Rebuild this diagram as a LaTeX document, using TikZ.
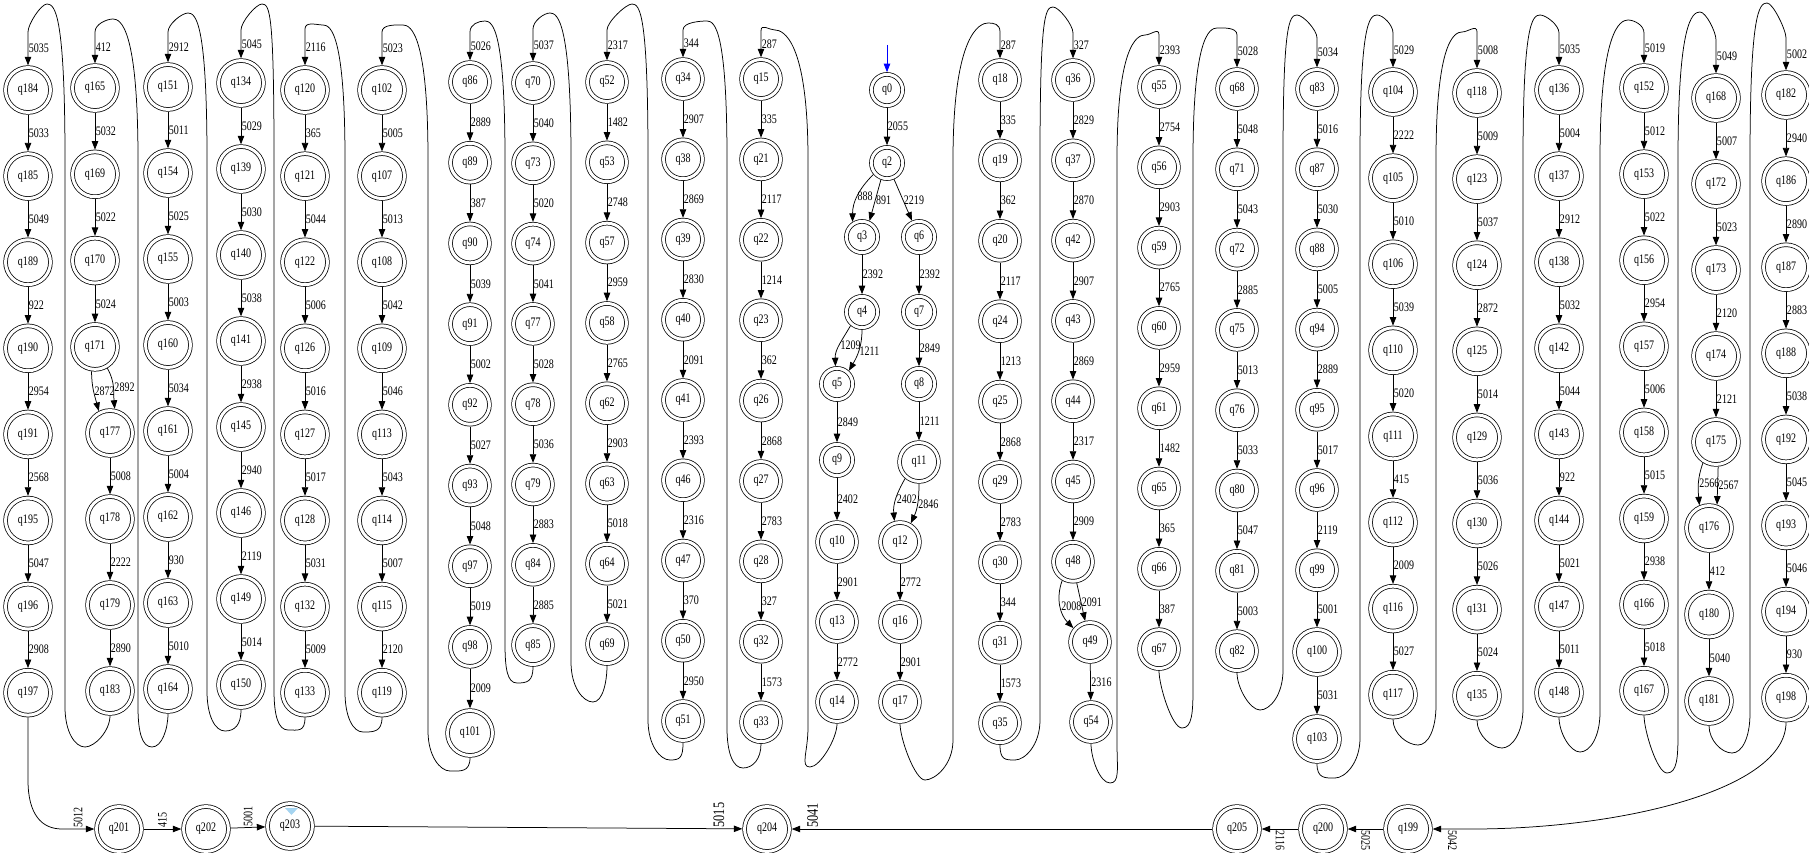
\documentclass[tikz,border=0pt]{standalone}
\usepackage{fontspec}
\setmainfont{Liberation Serif}[FakeStretch=0.77]
\usetikzlibrary{arrows.meta,calc}
\definecolor{pale}{RGB}{165,212,240}
\newcommand\gv{\fontsize{13}{15}\selectfont}
\newcommand\gvbig{\fontsize{16}{18}\selectfont}
\newcommand\stcol[5]{%
  \foreach \n [count=\i from 0] in {#5}
    \node[st,#4] (q\n) at (#1,{#2+#3*\i}) {q\n};}
\newcommand\wrapedge[9]{%
  \pgfmathsetmacro\wsg{sign(#6-#7)}%
  \coordinate (we) at (q#2.north |- 0,#9);
  \draw[tr] (q#1.south) .. controls ($(q#1.south)+(0,15)$) and ({#4+10*(\wsg)},#5) .. (#4,#5)
    .. controls ({#4-10*(\wsg)},#5) and (#6,#5-15) .. (#6,#5-40) -- (#6,160)
    .. controls (#6,#8+10) and ({#7+8*(\wsg)},#8) .. (#7,#8)
    .. controls ({#7-6*(\wsg)},#8) and ($(we)+(0,-8)$) .. (we)
    -- node[lbl]{#3} (q#2);}

\begin{document}
\begin{tikzpicture}[x=1pt, y=-1pt,
  st/.style={circle,draw,double,double distance=3pt,line width=0.75pt,inner sep=0pt,outer sep=2.25pt,font=\gv},
  sl/.style={minimum size=44.9pt}, sm/.style={minimum size=38.9pt}, ss/.style={minimum size=31.2pt},
  tr/.style={-{Triangle[length=8.5pt,width=6.5pt]},line width=0.75pt},
  lbl/.style={right,inner sep=0.6pt,font=\gv},
  rlbl/.style={rotate=90,anchor=west,inner sep=1pt,font=\gv},
  dlbl/.style={rotate=-90,anchor=west,inner sep=1pt,font=\gv}]
  \useasboundingbox (0,0) rectangle (1809,853);

  \stcol{28}{90}{86.1}{sl}{184,185,189,190,191,195,196,197}
  \stcol{95}{88}{86.3}{sl}{165,169,170,171}
  \stcol{110}{433}{86}{sl}{177,178,179,183}
  \stcol{168}{87}{86}{sl}{151,154,155,160,161,162,163,164}
  \stcol{241}{83}{86}{sl}{134,139,140,141,145,146,149,150}
  \stcol{305}{90}{86.1}{sl}{120,121,122,126,127,128,132,133}
  \stcol{382}{90}{86.1}{sl}{102,107,108,109,113,114,115,119}
  \stcol{470}{82}{80.7}{sm}{86,89,90,91,92,93,97,98}
  \node[st,sl] (q101) at (470,733) {q101};
  \stcol{533}{83}{80.3}{sm}{70,73,74,77,78,79,84,85}
  \stcol{607}{82}{80.3}{sm}{52,53,57,58,62,63,64,69}
  \stcol{683}{79}{80.25}{sm}{34,38,39,40,41,46,47,50,51}
  \stcol{761}{79}{80.4}{sm}{15,21,22,23,26,27,28,32,33}
  \node[st,ss] (q0) at (887,90) {q0};
  \node[st,ss] (q2) at (887,163) {q2};
  \node[st,ss] (q3) at (862,237) {q3};
  \node[st,ss] (q4) at (862,312) {q4};
  \node[st,ss] (q5) at (837,384) {q5};
  \node[st,ss] (q9) at (837,460) {q9};
  \node[st,sm] (q10) at (837,542) {q10};
  \node[st,sm] (q13) at (837,622) {q13};
  \node[st,sm] (q14) at (837,702) {q14};
  \node[st,ss] (q6) at (919,237) {q6};
  \node[st,ss] (q7) at (919,312) {q7};
  \node[st,ss] (q8) at (919,384) {q8};
  \node[st,sm] (q11) at (919,462) {q11};
  \node[st,sm] (q12) at (900,542) {q12};
  \node[st,sm] (q16) at (900,622) {q16};
  \node[st,sm] (q17) at (900,702) {q17};
  \stcol{1000}{80}{80.4}{sm}{18,19,20,24,25,29,30,31,35}
  \stcol{1073}{80}{80.3}{sm}{36,37,42,43,44,45,48}
  \node[st,sm] (q49) at (1090,642) {q49};
  \node[st,sm] (q54) at (1091,722) {q54};
  \stcol{1159}{87}{80.3}{sm}{55,56,59,60,61,65,66,67}
  \stcol{1237}{89}{80.3}{sm}{68,71,72,75,76,80,81,82}
  \stcol{1317}{89}{80.2}{sm}{83,87,88,94,95,96,99}
  \node[st,sl] (q100) at (1317,652) {q100};
  \node[st,sl] (q103) at (1317,739) {q103};
  \stcol{1393}{92}{86.1}{sl}{104,105,106,110,111,112,116,117}
  \stcol{1477}{93}{86.1}{sl}{118,123,124,125,129,130,131,135}
  \stcol{1559}{90}{86.1}{sl}{136,137,138,142,143,144,147,148}
  \stcol{1644}{88}{86.1}{sl}{152,153,156,157,158,159,166,167}
  \stcol{1716}{98}{86}{sl}{168,172,173,174,175}
  \stcol{1709}{528}{86.5}{sl}{176,180,181}
  \stcol{1786}{95}{86.1}{sl}{182,186,187,188,192,193,194,198}
  \node[st,sl] (q201) at (119,829) {q201};
  \node[st,sl] (q202) at (206,829) {q202};
  \node[st,sl] (q203) at (290,826) {q203};
  \node[st,sl] (q204) at (767,829) {q204};
  \node[st,sl] (q205) at (1237,829) {q205};
  \node[st,sl] (q200) at (1323,829) {q200};
  \node[st,sl] (q199) at (1408,829) {q199};
  \coordinate (init) at (887,45);

  \foreach \a/\b/\l in {184/185/5033,185/189/5049,189/190/922,190/191/2954,191/195/2568,195/196/5047,196/197/2908,
    165/169/5032,169/170/5022,170/171/5024,177/178/5008,178/179/2222,179/183/2890,
    151/154/5011,154/155/5025,155/160/5003,160/161/5034,161/162/5004,162/163/930,163/164/5010,
    134/139/5029,139/140/5030,140/141/5038,141/145/2938,145/146/2940,146/149/2119,149/150/5014,
    120/121/365,121/122/5044,122/126/5006,126/127/5016,127/128/5017,128/132/5031,132/133/5009,
    102/107/5005,107/108/5013,108/109/5042,109/113/5046,113/114/5043,114/115/5007,115/119/2120,
    86/89/2889,89/90/387,90/91/5039,91/92/5002,92/93/5027,93/97/5048,97/98/5019,98/101/2009,
    70/73/5040,73/74/5020,74/77/5041,77/78/5028,78/79/5036,79/84/2883,84/85/2885,
    52/53/1482,53/57/2748,57/58/2959,58/62/2765,62/63/2903,63/64/5018,64/69/5021,
    34/38/2907,38/39/2869,39/40/2830,40/41/2091,41/46/2393,46/47/2316,47/50/370,50/51/2950,
    15/21/335,21/22/2117,22/23/1214,23/26/362,26/27/2868,27/28/2783,28/32/327,32/33/1573}
    \draw[tr] (q\a) -- node[lbl]{\l} (q\b);
  \foreach \a/\b/\l in {0/2/2055,2/6/2219,3/4/2392,5/9/2849,9/10/2402,10/13/2901,13/14/2772,
    6/7/2392,7/8/2849,8/11/1211,12/16/2772,16/17/2901,
    18/19/335,19/20/362,20/24/2117,24/25/1213,25/29/2868,29/30/2783,30/31/344,31/35/1573,
    36/37/2829,37/42/2870,42/43/2907,43/44/2869,44/45/2317,45/48/2909,49/54/2316,
    55/56/2754,56/59/2903,59/60/2765,60/61/2959,61/65/1482,65/66/365,66/67/387,
    68/71/5048,71/72/5043,72/75/2885,75/76/5013,76/80/5033,80/81/5047,81/82/5003,
    83/87/5016,87/88/5030,88/94/5005,94/95/2889,95/96/5017,96/99/2119,99/100/5001,100/103/5031,
    104/105/2222,105/106/5010,106/110/5039,110/111/5020,111/112/415,112/116/2009,116/117/5027,
    118/123/5009,123/124/5037,124/125/2872,125/129/5014,129/130/5036,130/131/5026,131/135/5024,
    136/137/5004,137/138/2912,138/142/5032,142/143/5044,143/144/922,144/147/5021,147/148/5011,
    152/153/5012,153/156/5022,156/157/2954,157/158/5006,158/159/5015,159/166/2938,166/167/5018,
    168/172/5007,172/173/5023,173/174/2120,174/175/2121,176/180/412,180/181/5040,
    182/186/2940,186/187/2890,187/188/2883,188/192/5038,192/193/5045,193/194/5046,194/198/930}
    \draw[tr] (q\a) -- node[lbl]{\l} (q\b);

  \draw[tr,blue] (init) -- (q0);
  \draw[tr] (q2.220) to[out=225,in=90] node[lbl,xshift=-1pt]{888} (q3.122);
  \draw[tr] (q2.250) -- node[lbl]{891} (q3.65);
  \draw[tr] (q4.230) to[out=240,in=92] node[lbl]{1209} (q5.95);
  \draw[tr] (q4.270) to[out=-90,in=60] node[lbl]{1211} (q5.48);
  \draw[tr] (q11.230) to[out=240,in=95] node[lbl]{2402} (q12.105);
  \draw[tr] (q11.270) to[out=-90,in=65] node[lbl]{2846} (q12.60);
  \draw[tr] (q48.240) to[out=250,in=135] node[lbl]{2008} (q49.140);
  \draw[tr] (q48.280) -- node[lbl]{2091} (q49.103);
  \draw[tr] (q171.262) to[out=-90,in=105] node[lbl]{2872} (q177.117);
  \draw[tr] (q171.300) to[out=-60,in=95] node[lbl]{2892} (q177.79);
  \draw[tr] (q175.238) to[out=250,in=95] node[lbl]{2566} (q176.113);
  \draw[tr] (q175.275) -- node[lbl]{2567} (q176.71);

  \wrapedge{14}{15}{287}{810}{767}{808}{775}{30}{31}
  \wrapedge{33}{34}{344}{743}{768}{727}{707}{21}{30}
  \wrapedge{51}{52}{2317}{670}{760}{648}{632}{4}{30}
  \wrapedge{69}{70}{5037}{593}{702}{571}{550}{13}{29}
  \wrapedge{85}{86}{5026}{517}{683}{505}{485}{21}{32}
  \wrapedge{101}{102}{5023}{450}{771}{428}{403}{25}{32}
  \wrapedge{119}{120}{2116}{363}{732}{345}{323}{25}{29}
  \wrapedge{133}{134}{5045}{288}{730}{274}{262}{4}{30}
  \wrapedge{150}{151}{2912}{225}{731}{207}{188}{13}{32}
  \wrapedge{164}{165}{412}{152}{747}{138}{113}{19}{32}
  \wrapedge{183}{184}{5035}{85}{747}{65}{47}{4}{32}
  \wrapedge{17}{18}{287}{925}{780}{953}{988}{23}{32}
  \wrapedge{35}{36}{327}{1015}{760}{1040}{1053}{7}{33}
  \wrapedge{54}{55}{2393}{1110}{783}{1117}{1145}{35}{35}
  \wrapedge{67}{68}{5028}{1182}{728}{1193}{1217}{28}{35}
  \wrapedge{82}{83}{5034}{1260}{710}{1283}{1297}{15}{38}
  \wrapedge{103}{104}{5029}{1335}{778}{1360}{1377}{15}{33}
  \wrapedge{117}{118}{5008}{1418}{745}{1436}{1462}{32}{32}
  \wrapedge{135}{136}{5035}{1502}{748}{1523}{1540}{15}{33}
  \wrapedge{148}{152}{5019}{1580}{752}{1600}{1628}{20}{33}
  \wrapedge{167}{168}{5049}{1667}{773}{1678}{1700}{12}{40}
  \wrapedge{181}{182}{5002}{1732}{753}{1750}{1767}{3}{38}

  \draw[tr] (q197.south) -- (28,780) .. controls (28,815) and (42,829) .. (62,829) -- node[rlbl]{5012} (q201);
  \draw[tr] (q201) -- node[rlbl]{415} (q202);
  \draw[tr] (q202) -- node[rlbl]{5001} (q203);
  \draw[tr] (q203) -- node[rlbl,font=\gvbig,pos=0.945]{5015} (q204);
  \draw[tr] (q205) -- node[rlbl,font=\gvbig,pos=0.95]{5041} (q204);
  \draw[tr] (q200) -- node[dlbl]{2116} (q205);
  \draw[tr] (q199) -- node[dlbl]{5025} (q200);
  \draw[tr] (q198.south) .. controls (1786,790) and (1620,829) .. (1472,829) -- node[dlbl]{5042} (q199);
  \fill[pale] (285,808) -- (298,808) -- (291.5,815) -- cycle;
\end{tikzpicture}
\end{document}
